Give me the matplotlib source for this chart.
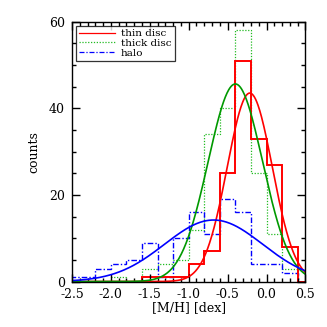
import numpy as np
import matplotlib
matplotlib.use("Agg")
import matplotlib.pyplot as plt
from matplotlib.lines import Line2D
from matplotlib.ticker import MultipleLocator

# bin edges of the [M/H] histograms (0.2 dex bins)
edges = [-2.6, -2.4, -2.2, -2.0, -1.8, -1.6, -1.4, -1.2, -1.0,
         -0.8, -0.6, -0.4, -0.2, 0.0, 0.2, 0.4, 0.6]

# counts per bin
thin_counts = [0, 0, 0, 0, 0, 1, 1, 1, 4, 7, 25, 51, 33, 27, 8, 0]
thick_counts = [0, 0, 0, 1, 0, 3, 4, 5, 12, 34, 40, 58, 25, 11, 3, 0]
halo_counts = [1, 1, 3, 4, 5, 9, 1, 10, 16, 11, 19, 16, 4, 4, 2, 0]

# gaussian fits: (peak, mean, sigma)
thin_fit = (43.5, -0.215, 0.29)
thick_fit = (45.6, -0.40, 0.35)
halo_fit = (14.2, -0.68, 0.63)

labels = ["thin disc", "thick disc", "halo"]


def gauss(x, fit):
    a, mu, sig = fit
    return a * np.exp(-(x - mu) ** 2 / (2 * sig ** 2))


plt.rcParams["font.family"] = ["DejaVu Serif"]
plt.rcParams["font.size"] = 9

fig = plt.figure(figsize=(3.27, 3.27), dpi=100)
ax = fig.add_axes([0.220, 0.139, 0.714, 0.795])

thick_ls = (0, (1, 1.3))
halo_ls = (0, (4, 1.5, 1, 1.5))
ax.stairs(thick_counts, edges, color="#22bb22", lw=0.9, ls=thick_ls)
ax.stairs(halo_counts, edges, color="#0000ff", lw=1.0, ls=halo_ls)
ax.stairs(thin_counts, edges, color="#ff0000", lw=1.4)

x = np.linspace(-2.5, 0.5, 400)
ax.plot(x, gauss(x, thin_fit), color="#ff0000", lw=1.2)
ax.plot(x, gauss(x, thick_fit), color="#009900", lw=1.2)
ax.plot(x, gauss(x, halo_fit), color="#0000ff", lw=1.2)

ax.set_xlim(-2.5, 0.5)
ax.set_ylim(0, 60)
ax.xaxis.set_major_locator(MultipleLocator(0.5))
ax.xaxis.set_minor_locator(MultipleLocator(0.1))
ax.yaxis.set_major_locator(MultipleLocator(20))
ax.yaxis.set_minor_locator(MultipleLocator(5))
ax.xaxis.set_major_formatter(plt.FuncFormatter(lambda v, p: f"{v:.1f}"))
ax.tick_params(which="both", direction="in", top=True, right=True, width=1.0)
ax.tick_params(which="major", length=6, pad=5)
ax.tick_params(which="minor", length=3)
for s in ax.spines.values():
    s.set_linewidth(1.0)

ax.set_xlabel("[M/H] [dex]", labelpad=0)
ax.set_ylabel("counts", labelpad=6)

# legend keys drawn thinner than the histograms
h = [Line2D([], [], color="#ff0000", lw=0.9),
     Line2D([], [], color="#22bb22", lw=0.9, ls=thick_ls),
     Line2D([], [], color="#0000ff", lw=0.9, ls=halo_ls)]
leg = ax.legend(h, labels, loc="upper left", fontsize=7.5, frameon=True, fancybox=False,
                edgecolor="black", handlelength=3.4, handletextpad=0.6, labelspacing=0.05,
                borderpad=0.3, borderaxespad=0.4)
leg.get_frame().set_linewidth(0.9)

fig.savefig("out.png", dpi=100)
